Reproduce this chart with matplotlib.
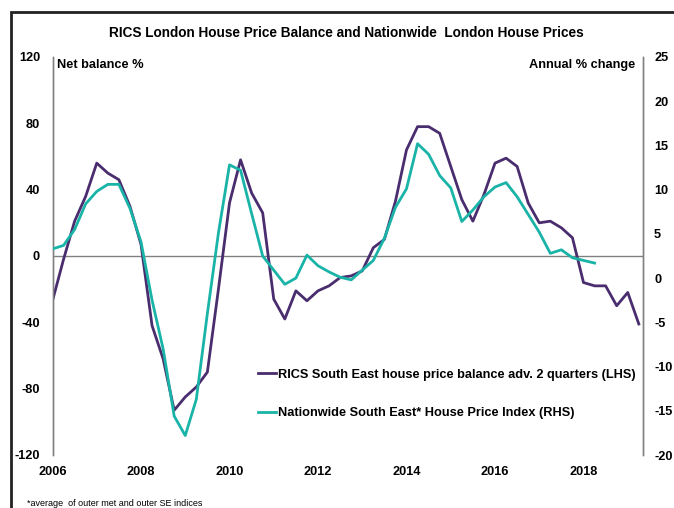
import numpy as np
import matplotlib
matplotlib.use("Agg")
from matplotlib import pyplot as plt
from matplotlib.patches import Rectangle

plt.rcParams['font.family'] = ['Liberation Sans', 'DejaVu Sans']
plt.rcParams['axes.unicode_minus'] = False

# quarterly data starting Q1 2006
start_year = 2006
rics_balance = [-27, -2, 21, 36, 56, 50, 46, 30, 7, -42,
                -62, -93, -85, -79, -70, -20, 32, 58, 38, 26,
                -26, -38, -21, -27, -21, -18, -13, -12, -9, 5,
                10, 33, 64, 78, 78, 74, 54, 34, 21, 37,
                56, 59, 54, 32, 20, 21, 17, 11, -16, -18,
                -18, -30, -22, -41]
nationwide_hpi = [3.3, 3.7, 5.5, 8.4, 9.8, 10.6, 10.6, 7.9, 4.1, -2.5,
                  -8.0, -15.6, -17.8, -13.7, -4.0, 5.1, 12.8, 12.2, 7.3, 2.5,
                  0.9, -0.7, 0.0, 2.6, 1.4, 0.7, 0.1, -0.2, 0.9, 2.0,
                  4.5, 8.0, 10.1, 15.2, 14.0, 11.6, 10.2, 6.4, 7.7, 9.2,
                  10.3, 10.8, 9.2, 7.2, 5.2, 2.8, 3.2, 2.3, 2.0, 1.7]
year_ticks = [2006, 2008, 2010, 2012, 2014, 2016, 2018]
left_ticks = [-120, -80, -40, 0, 40, 80, 120]
right_ticks = [-20, -15, -10, -5, 0, 5, 10, 15, 20, 25]

purple = '#4a2d6e'
teal = '#19b4a7'
grey = '#808080'

x1 = start_year + np.arange(len(rics_balance)) / 4.0
x2 = start_year + np.arange(len(nationwide_hpi)) / 4.0

W, H = 674, 508
fig = plt.figure(figsize=(W / 100, H / 100), dpi=100)
ax = fig.add_axes([52.5 / W, 1 - 455 / H, (643 - 52.5) / W, (455 - 57) / H])
ax2 = ax.twinx()

l1, = ax.plot(x1, rics_balance, color=purple, lw=2.0, zorder=3,
              label='RICS South East house price balance adv. 2 quarters (LHS)')
l2, = ax2.plot(x2, nationwide_hpi, color=teal, lw=2.0, zorder=3,
               label='Nationwide South East* House Price Index (RHS)')
ax.axhline(0, color=grey, lw=1.0, zorder=1)

ax.set_xlim(2006, 2006 + (643 - 52.5) / 44.25)
ax.set_ylim(-120, 120)
ax2.set_ylim(-20, 25)
ax.set_xticks(year_ticks)
ax.set_yticks(left_ticks)
ax2.set_yticks(right_ticks)

for a in (ax, ax2):
    for s in ('top', 'bottom'):
        a.spines[s].set_visible(False)
    a.spines['left'].set_color(grey)
    a.spines['right'].set_color(grey)
    a.spines['left'].set_linewidth(1.0)
    a.spines['right'].set_linewidth(1.0)
    a.patch.set_visible(False)

ax.tick_params(axis='y', length=0, pad=9, labelsize=9.2)
ax.tick_params(axis='x', length=0, pad=8, labelsize=9.2)
ax2.tick_params(axis='y', length=0, pad=8, labelsize=9.2)
for lab in ax.get_xticklabels() + ax.get_yticklabels() + ax2.get_yticklabels():
    lab.set_fontweight('bold')

fig.text(346 / W, 1 - 33 / H, 'RICS London House Price Balance and Nationwide  London House Prices',
         ha='center', va='center', fontsize=9.8, fontweight='bold')
fig.text(57 / W, 1 - 65 / H, 'Net balance %', ha='left', va='center',
         fontsize=9.2, fontweight='bold')
fig.text(635 / W, 1 - 65 / H, 'Annual % change', ha='right', va='center',
         fontsize=9.2, fontweight='bold')
fig.text(27 / W, 1 - 503 / H, '*average  of outer met and outer SE indices',
         ha='left', va='center', fontsize=6.5)

leg = ax2.legend(handles=[l1, l2], loc='center left',
                 bbox_to_anchor=(258 / W, 1 - 394 / H), bbox_transform=fig.transFigure,
                 frameon=False, borderpad=0, borderaxespad=0, handlelength=1.4,
                 handletextpad=0.15, labelspacing=2.05,
                 prop={'weight': 'bold', 'size': 9.2})

# outer frame
fig.patches.append(Rectangle((11 / W, -0.1), 1.2, 1 - 12.5 / H + 0.1,
                             transform=fig.transFigure, fill=False,
                             edgecolor='#222222', lw=2.0))

fig.savefig('out.png', dpi=100)
